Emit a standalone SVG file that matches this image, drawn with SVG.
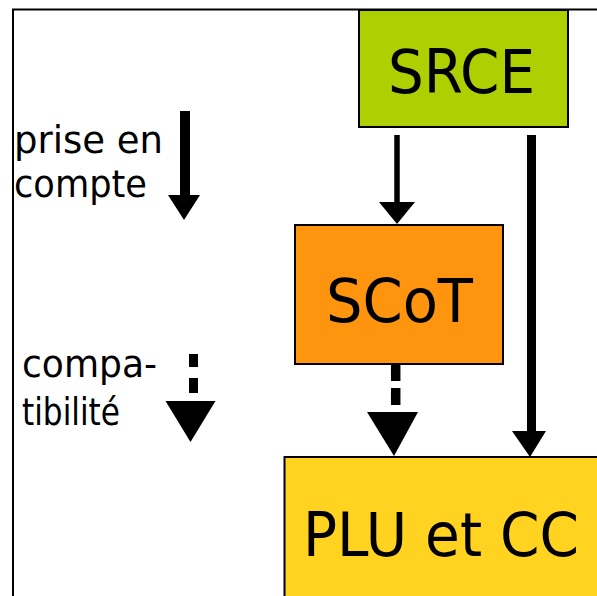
<svg xmlns="http://www.w3.org/2000/svg" width="597" height="596" viewBox="0 0 597 596">
  <style>
    .lbl { font-family: "DejaVu Sans", "Liberation Sans", sans-serif; fill: #000; }
    .small { font-size: 37px; }
    .big { font-size: 61px; }
    .box { stroke: #000; stroke-width: 2; }
    .shaft { stroke: #000; fill: none; }
    .head { fill: #000; }
  </style>
  <rect width="597" height="596" fill="#fff"/>
  <g id="frame">
    <path d="M13 600 V9.5 H600" fill="none" stroke="#000" stroke-width="2"/>
  </g>
  <g id="legend">
    <text class="lbl small" x="14" y="153" textLength="149" lengthAdjust="spacingAndGlyphs">prise en</text>
    <text class="lbl small" x="14" y="197" textLength="133" lengthAdjust="spacingAndGlyphs">compte</text>
    <text class="lbl small" x="22" y="377" textLength="135" lengthAdjust="spacingAndGlyphs">compa-</text>
    <text class="lbl small" x="22" y="425" textLength="98" lengthAdjust="spacingAndGlyphs">tibilité</text>
  </g>
  <g id="connectors">
    <line class="shaft" x1="185" y1="111" x2="185" y2="196" stroke-width="10"/>
    <polygon class="head" points="168,195 200,195 184,220"/>
    <line class="shaft" x1="193.5" y1="354" x2="193.5" y2="367" stroke-width="9"/>
    <line class="shaft" x1="193.5" y1="378" x2="193.5" y2="393" stroke-width="9"/>
    <polygon class="head" points="165.5,401 215.5,401 190.5,442"/>
    <line class="shaft" x1="397" y1="135" x2="397" y2="203" stroke-width="5.5"/>
    <polygon class="head" points="379,202 415,202 397,224"/>
    <line class="shaft" x1="531.5" y1="135" x2="531.5" y2="432" stroke-width="9"/>
    <polygon class="head" points="512,431 546,431 530,457"/>
    <line class="shaft" x1="395.7" y1="364" x2="395.7" y2="381" stroke-width="9.5"/>
    <line class="shaft" x1="395.7" y1="388" x2="395.7" y2="405" stroke-width="9.5"/>
    <polygon class="head" points="367,412 418,412 394,456"/>
  </g>
  <g id="SRCE">
    <rect class="box" x="359" y="10" width="209" height="117" fill="#aecf00"/>
    <text class="lbl big" x="461.5" y="93" text-anchor="middle" textLength="147" lengthAdjust="spacingAndGlyphs">SRCE</text>
  </g>
  <g id="SCoT">
    <rect class="box" x="295" y="225" width="208" height="139" fill="#ff950e"/>
    <text class="lbl big" x="399.5" y="322" text-anchor="middle" textLength="147" lengthAdjust="spacingAndGlyphs">SCoT</text>
  </g>
  <g id="PLU">
    <rect class="box" x="284.5" y="457" width="330" height="150" fill="#ffd320"/>
    <text class="lbl big" x="441" y="556" text-anchor="middle" textLength="276" lengthAdjust="spacingAndGlyphs">PLU et CC</text>
  </g>
</svg>
